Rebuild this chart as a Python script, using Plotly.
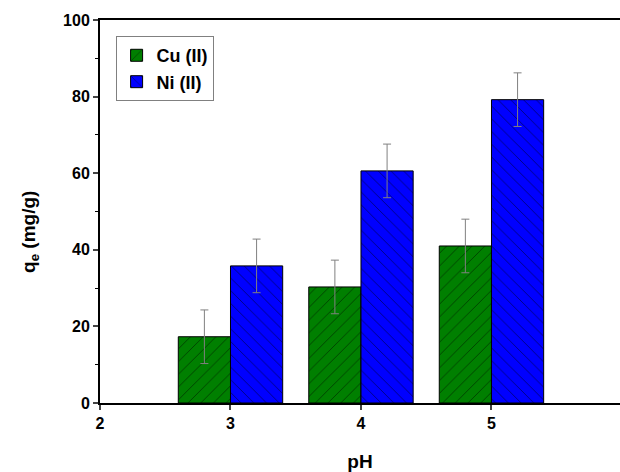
import plotly.graph_objects as go

ph = [3, 4, 5]
cu_values = [17.3, 30.3, 41.0]
ni_values = [35.8, 60.6, 79.2]
cu_err = [7.0, 7.0, 7.0]
ni_err = [7.0, 7.0, 7.0]
x_ticks = [2, 3, 4, 5]
y_ticks = [0, 20, 40, 60, 80, 100]
y_minor = [10, 30, 50, 70, 90]

font_family = "Liberation Sans, Arial, sans-serif"

fig = go.Figure()
fig.add_trace(go.Bar(
    x=ph, y=cu_values, name="Cu (II)",
    marker=dict(color="#007f00", line=dict(color="black", width=1),
                pattern=dict(shape="/", fgcolor="black", bgcolor="#007f00", size=9, solidity=0.1)),
    error_y=dict(type="data", array=cu_err, visible=True, color="#808080", thickness=1, width=4),
))
fig.add_trace(go.Bar(
    x=ph, y=ni_values, name="Ni (II)",
    marker=dict(color="#0000ff", line=dict(color="black", width=1),
                pattern=dict(shape="\\", fgcolor="black", bgcolor="#0000ff", size=9, solidity=0.1)),
    error_y=dict(type="data", array=ni_err, visible=True, color="#808080", thickness=1, width=4),
))

fig.update_layout(
    width=620, height=472,
    margin=dict(l=100, r=0, t=20, b=69),
    paper_bgcolor="white", plot_bgcolor="white",
    barmode="group", bargap=0.2, bargroupgap=0,
    font=dict(family=font_family, size=16, color="black", weight="bold"),
    showlegend=True,
    legend=dict(x=0.03, y=0.958, xanchor="left", yanchor="top",
                bordercolor="#808080", borderwidth=1, bgcolor="white",
                font=dict(size=18, family=font_family, weight="bold"),
                tracegroupgap=0, itemwidth=30),
    xaxis=dict(range=[2, 5.985], tickvals=x_ticks, ticks="outside", ticklen=5, tickwidth=2,
               showline=True, linewidth=2, linecolor="black", mirror=True,
               showgrid=False, zeroline=False, automargin=False,
               tickfont=dict(size=16, weight="bold"),
               title=dict(text="pH", font=dict(size=19, weight="bold"), standoff=30)),
    yaxis=dict(range=[0, 100], tickvals=y_ticks, ticks="outside", ticklen=5, tickwidth=2,
               showline=True, linewidth=2, linecolor="black",
               showgrid=False, zeroline=False, automargin=False,
               tickfont=dict(size=16, weight="bold"),
               minor=dict(tickvals=y_minor, ticks="outside", ticklen=3, tickwidth=1, tickcolor="black")),
    annotations=[dict(text="q<sub>e</sub> (mg/g)", textangle=-90, showarrow=False,
                      xref="paper", yref="paper", x=-0.135, y=0.446,
                      xanchor="center", yanchor="middle",
                      font=dict(size=19, family=font_family, weight="bold", color="black"))],
)

fig.write_html("out.html")
